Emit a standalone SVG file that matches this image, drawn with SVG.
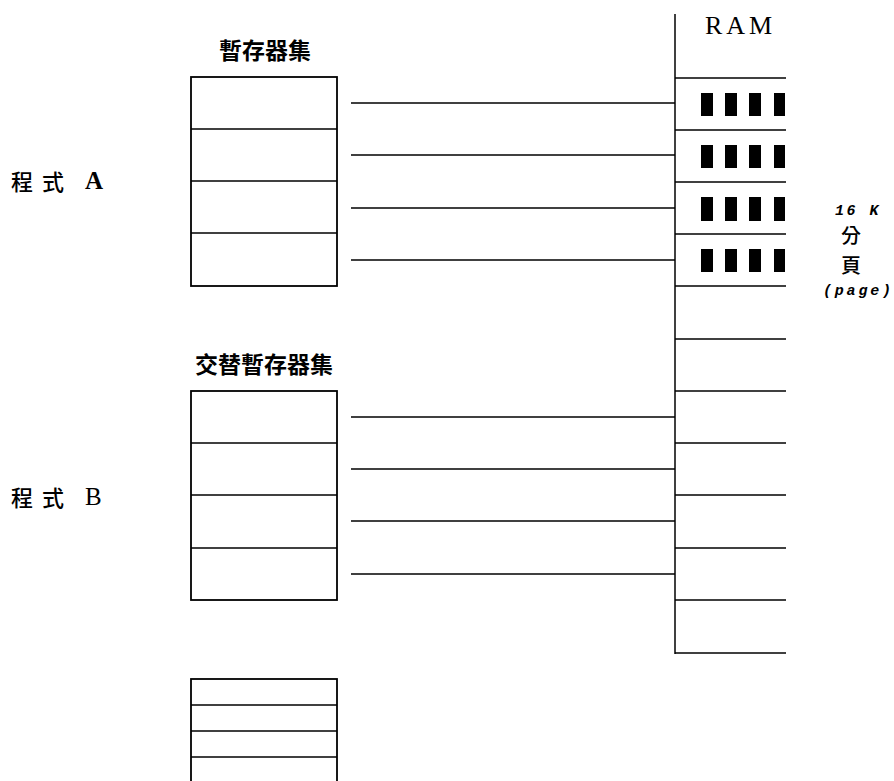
<svg xmlns="http://www.w3.org/2000/svg" width="894" height="781" viewBox="0 0 894 781">
<style>
.ln{stroke:#000;stroke-width:1.5;fill:none}
.bx{stroke:#000;stroke-width:1.8;fill:#fff}
.cjk{font-family:"Noto Sans CJK TC","Noto Sans CJK SC",sans-serif;fill:#000}
.ser{font-family:"Liberation Serif",serif;fill:#000}
.mono{font-family:"Liberation Mono",monospace;font-weight:bold;font-style:italic;fill:#000}
.blk{fill:#000}
</style>
<rect width="894" height="781" fill="#fff"/>
<g id="label-program-a">
<text class="cjk" x="11" y="190" font-size="22" font-weight="500">程</text>
<text class="cjk" x="42" y="190" font-size="22" font-weight="500">式</text>
<text class="ser" x="85" y="189" font-size="25" font-weight="bold">A</text>
</g>
<g id="label-program-b">
<text class="cjk" x="11" y="506" font-size="22" font-weight="500">程</text>
<text class="cjk" x="42" y="506" font-size="22" font-weight="500">式</text>
<text class="ser" x="85" y="505" font-size="25">B</text>
</g>
<g id="register-set-a">
<text class="cjk" x="265" y="59" font-size="23" font-weight="bold" text-anchor="middle">暫存器集</text>
<rect class="bx" x="191" y="77" width="146" height="209"/>
<line class="ln" x1="191" y1="129" x2="337" y2="129"/>
<line class="ln" x1="191" y1="181" x2="337" y2="181"/>
<line class="ln" x1="191" y1="233" x2="337" y2="233"/>
</g>
<g id="register-set-b">
<text class="cjk" x="264" y="373" font-size="23" font-weight="bold" text-anchor="middle">交替暫存器集</text>
<rect class="bx" x="191" y="391" width="146" height="209"/>
<line class="ln" x1="191" y1="443" x2="337" y2="443"/>
<line class="ln" x1="191" y1="495" x2="337" y2="495"/>
<line class="ln" x1="191" y1="548" x2="337" y2="548"/>
</g>
<g id="register-set-c">
<rect class="bx" x="191" y="679" width="146" height="110"/>
<line class="ln" x1="191" y1="705" x2="337" y2="705"/>
<line class="ln" x1="191" y1="731" x2="337" y2="731"/>
<line class="ln" x1="191" y1="757" x2="337" y2="757"/>
</g>
<g id="ram">
<text class="ser" x="705" y="34" font-size="26" letter-spacing="4">RAM</text>
<line class="ln" x1="675" y1="14" x2="675" y2="654"/>
<line class="ln" x1="675" y1="78" x2="786" y2="78"/>
<line class="ln" x1="675" y1="130" x2="786" y2="130"/>
<line class="ln" x1="675" y1="182" x2="786" y2="182"/>
<line class="ln" x1="675" y1="234" x2="786" y2="234"/>
<line class="ln" x1="675" y1="286" x2="786" y2="286"/>
<line class="ln" x1="675" y1="339" x2="786" y2="339"/>
<line class="ln" x1="675" y1="391" x2="786" y2="391"/>
<line class="ln" x1="675" y1="443" x2="786" y2="443"/>
<line class="ln" x1="675" y1="495" x2="786" y2="495"/>
<line class="ln" x1="675" y1="548" x2="786" y2="548"/>
<line class="ln" x1="675" y1="600" x2="786" y2="600"/>
<line class="ln" x1="675" y1="653" x2="786" y2="653"/>
<g id="used-pages">
<rect class="blk" x="701" y="93" width="12" height="23"/>
<rect class="blk" x="725" y="93" width="12" height="23"/>
<rect class="blk" x="749" y="93" width="12" height="23"/>
<rect class="blk" x="774" y="93" width="11" height="23"/>
<rect class="blk" x="701" y="145" width="12" height="23"/>
<rect class="blk" x="725" y="145" width="12" height="23"/>
<rect class="blk" x="749" y="145" width="12" height="23"/>
<rect class="blk" x="774" y="145" width="11" height="23"/>
<rect class="blk" x="701" y="197" width="12" height="24"/>
<rect class="blk" x="725" y="197" width="12" height="24"/>
<rect class="blk" x="749" y="197" width="12" height="24"/>
<rect class="blk" x="774" y="197" width="11" height="24"/>
<rect class="blk" x="701" y="249" width="12" height="23"/>
<rect class="blk" x="725" y="249" width="12" height="23"/>
<rect class="blk" x="749" y="249" width="12" height="23"/>
<rect class="blk" x="774" y="249" width="11" height="23"/>
</g>
</g>
<g id="page-label">
<text class="mono" x="835" y="215" font-size="15" letter-spacing="2.5">16 K</text>
<text class="cjk" x="851" y="243" font-size="20" font-weight="500" text-anchor="middle">分</text>
<text class="cjk" x="851" y="272.5" font-size="20" font-weight="500" text-anchor="middle">頁</text>
<text class="mono" x="823" y="295" font-size="15" letter-spacing="2.8">(page)</text>
</g>
<g id="connectors">
<line class="ln" x1="351" y1="103" x2="675" y2="103"/>
<line class="ln" x1="351" y1="155" x2="675" y2="155"/>
<line class="ln" x1="351" y1="208" x2="675" y2="208"/>
<line class="ln" x1="351" y1="260" x2="675" y2="260"/>
<line class="ln" x1="351" y1="417" x2="675" y2="417"/>
<line class="ln" x1="351" y1="469" x2="675" y2="469"/>
<line class="ln" x1="351" y1="521" x2="675" y2="521"/>
<line class="ln" x1="351" y1="574" x2="675" y2="574"/>
</g>
</svg>
